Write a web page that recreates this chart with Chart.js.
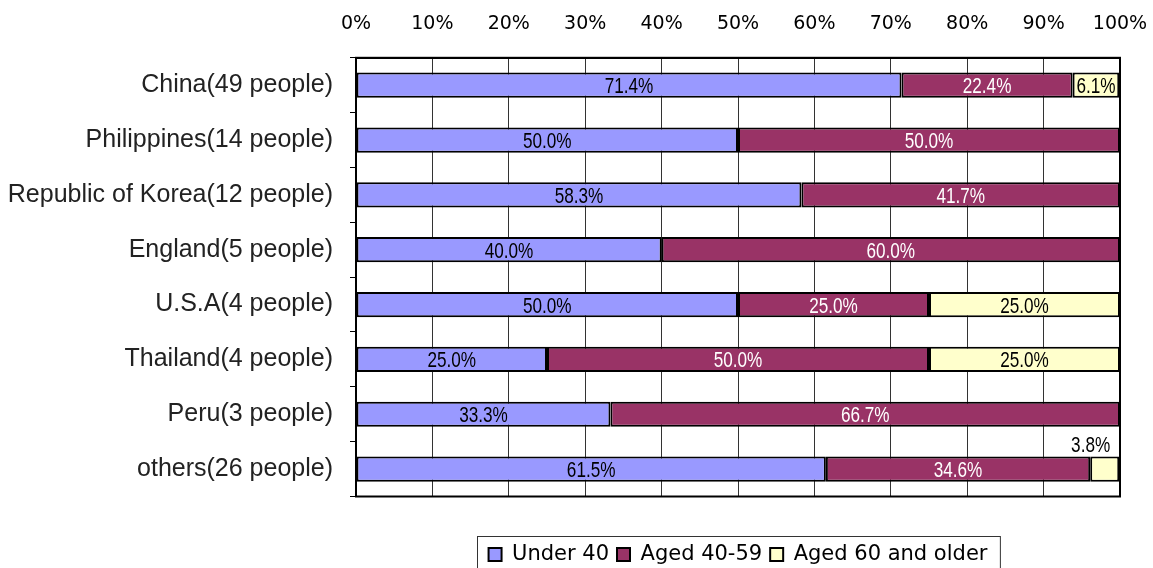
<!DOCTYPE html>
<html>
<head>
<meta charset="utf-8">
<script src="https://cdn.jsdelivr.net/npm/chart.js@4.4.1/dist/chart.umd.min.js"></script>
<style>
html, body { margin: 0; padding: 0; background: #fff; overflow: hidden; }
</style>
</head>
<body>
<canvas id="myChart" width="1153" height="568"></canvas>
<script>
var countries = ['China(49 people)', 'Philippines(14 people)', 'Republic of Korea(12 people)', 'England(5 people)',
    'U.S.A(4 people)', 'Thailand(4 people)', 'Peru(3 people)', 'others(26 people)'];
var under40 = [71.4, 50.0, 58.3, 40.0, 50.0, 25.0, 33.3, 61.5];
var aged40to59 = [22.4, 50.0, 41.7, 60.0, 25.0, 50.0, 66.7, 34.6];
var aged60up = [6.1, 0, 0, 0, 25.0, 25.0, 0, 3.8];
var seriesNames = ['Under 40', 'Aged 40-59', 'Aged 60 and older'];
var seriesColors = ['#9999FF', '#993366', '#FFFFCC'];
var labelColors = ['#000', '#fff', '#000'];

var barLabels = {
    id: 'barLabels',
    afterDatasetsDraw: function (chart) {
        var ctx = chart.ctx;
        ctx.save();
        ctx.font = '22px "Liberation Sans", Arial, sans-serif';
        ctx.textBaseline = 'middle';
        ctx.textAlign = 'center';
        chart.data.datasets.forEach(function (ds, i) {
            var meta = chart.getDatasetMeta(i);
            meta.data.forEach(function (bar, j) {
                var v = ds.data[j];
                if (!v) return;
                var txt = v.toFixed(1) + '%';
                var w = ctx.measureText(txt).width * 0.78;
                var left = Math.min(bar.x, bar.base), right = Math.max(bar.x, bar.base);
                var cx, cy, color;
                if (w + 4 < right - left) {
                    cx = (left + right) / 2; cy = bar.y + 2; color = labelColors[i];
                } else {
                    // too narrow: put it above the bar, near its right end
                    cx = right - 9 - w / 2; cy = bar.y - 23; color = '#000';
                }
                ctx.fillStyle = color;
                ctx.save();
                ctx.translate(cx, cy);
                ctx.scale(0.78, 1);
                ctx.fillText(txt, 0, 0);
                ctx.restore();
            });
        });
        ctx.restore();
    }
};

var frames = {
    id: 'frames',
    afterDraw: function (chart) {
        var a = chart.chartArea, ctx = chart.ctx;
        ctx.save();
        ctx.strokeStyle = '#000';
        ctx.lineWidth = 2;
        ctx.strokeRect(a.left, a.top, a.right - a.left, a.bottom - a.top);
        var hb = chart.legend.legendHitBoxes;
        if (hb && hb.length) {
            var x0 = hb[0].left, x1 = hb[hb.length - 1].left + hb[hb.length - 1].width;
            var mid = hb[0].top + hb[0].height / 2;
            ctx.lineWidth = 1;
            ctx.strokeStyle = '#333';
            ctx.strokeRect(Math.round(x0 - 12) + 0.5, Math.round(mid - 19) + 0.5, x1 - x0 + 24, 60);
        }
        ctx.restore();
    }
};

var datasets = [under40, aged40to59, aged60up].map(function (vals, i) {
    return {
        label: seriesNames[i],
        data: vals,
        backgroundColor: seriesColors[i],
        borderColor: '#000',
        borderWidth: 2,
        borderSkipped: false,
        barPercentage: 1,
        categoryPercentage: 0.46
    };
});

var ctx = document.getElementById('myChart');
var myChart = new Chart(ctx, {
    type: 'bar',
    data: { labels: countries, datasets: datasets },
    options: {
        indexAxis: 'y',
        responsive: false,
        animation: false,
        layout: { padding: { top: -9, right: 33, bottom: -7, left: 0 } },
        scales: {
            x: {
                position: 'top',
                stacked: true,
                min: 0,
                max: 100,
                afterFit: function (s) { s.paddingLeft = 0; s.paddingRight = 0; },
                ticks: {
                    stepSize: 10,
                    padding: 22,
                    color: '#000',
                    font: { family: '"DejaVu Sans", sans-serif', size: 19 },
                    callback: function (v) { return v + '%'; }
                },
                grid: { color: '#333', lineWidth: 1, drawTicks: false },
                border: { color: '#000', width: 2 }
            },
            y: {
                stacked: true,
                afterFit: function (s) { s.width = 356; },
                ticks: {
                    padding: 17,
                    color: '#222',
                    font: { family: '"Liberation Sans", Arial, sans-serif', size: 25 }
                },
                grid: { drawOnChartArea: false, drawTicks: true, tickLength: 6, color: '#000', offset: true },
                border: { color: '#000', width: 2 }
            }
        },
        plugins: {
            legend: {
                position: 'bottom',
                fullSize: false,
                labels: {
                    boxWidth: 13,
                    boxHeight: 13,
                    padding: 8,
                    color: '#000',
                    font: { family: '"DejaVu Sans", sans-serif', size: 21 }
                },
                title: { display: true, text: '', padding: { top: 29.5, bottom: 0 }, font: { size: 10, lineHeight: 1 } }
            },
            tooltip: { enabled: false }
        }
    },
    plugins: [barLabels, frames]
});
</script>
</body>
</html>
